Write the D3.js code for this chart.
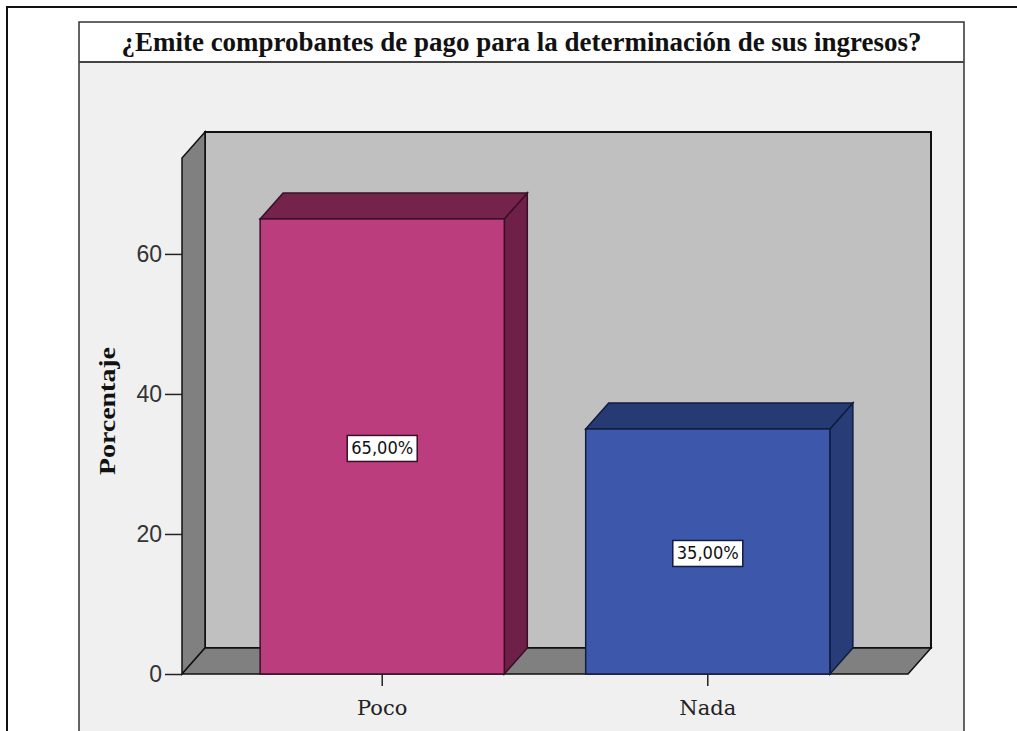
<!DOCTYPE html>
<html><head><meta charset="utf-8">
<script src="https://cdn.jsdelivr.net/npm/d3@7/dist/d3.min.js"></script>
<style>html,body{margin:0;padding:0;background:#fff;overflow:hidden}</style>
</head><body>
<svg id="chart" width="1017" height="731"></svg>
<script>
const categories = ["Poco", "Nada"];
const values = [65, 35];
const valueLabels = ["65,00%", "35,00%"];
const yTicks = [0, 20, 40, 60];
const title = "¿Emite comprobantes de pago para la determinación de sus ingresos?";
const yTitle = "Porcentaje";

const frontColors = ["#BB3D7D", "#3D57AB"];
const topColors = ["#74244B", "#263A74"];
const sideColors = ["#6E2048", "#283C78"];
const edgeColors = ["#3a0f26", "#101c40"];

const svg = d3.select("#chart");
const W = 1017, H = 731;

// outer frame
svg.append("rect").attr("x", 7).attr("y", 7).attr("width", W + 20).attr("height", H + 20)
  .attr("fill", "#fff").attr("stroke", "#111").attr("stroke-width", 2);

// chart box
const boxL = 79, boxR = 964, boxT = 22, sepY = 62;
svg.append("rect").attr("x", boxL).attr("y", boxT).attr("width", boxR - boxL).attr("height", H + 20)
  .attr("fill", "#F0F0F0").attr("stroke", "#333").attr("stroke-width", 1.5);
svg.append("rect").attr("x", boxL + 1).attr("y", boxT + 1).attr("width", boxR - boxL - 2).attr("height", sepY - boxT - 1)
  .attr("fill", "#fff");
svg.append("line").attr("x1", boxL).attr("x2", boxR).attr("y1", sepY).attr("y2", sepY)
  .attr("stroke", "#444").attr("stroke-width", 2);
svg.append("text").attr("x", (boxL + boxR) / 2).attr("y", 51).attr("text-anchor", "middle")
  .attr("font-family", "'Liberation Serif', 'Times New Roman', serif").attr("font-weight", "bold")
  .attr("font-size", 27).attr("textLength", 800).attr("lengthAdjust", "spacingAndGlyphs")
  .attr("fill", "#111").text(title);

// geometry
const x0 = 182, x1 = 908, yBase = 674, yTop = 158;
const dx = 23, dy = -26;
const y = d3.scaleLinear().domain([0, 73.7]).range([yBase, yTop]);
const x = d3.scaleBand().domain(categories).range([x0, x1]).paddingInner(0.25).paddingOuter(0.24);

const line = d3.line();
const poly = pts => line(pts) + "Z";

// back wall
svg.append("rect").attr("x", x0 + dx).attr("y", yTop + dy).attr("width", x1 - x0).attr("height", yBase - yTop)
  .attr("fill", "#C0C0C0").attr("stroke", "#111").attr("stroke-width", 2);
// left wall
svg.append("path").attr("d", poly([[x0, yBase], [x0, yTop], [x0 + dx, yTop + dy], [x0 + dx, yBase + dy]]))
  .attr("fill", "#808080").attr("stroke", "#111").attr("stroke-width", 1.5);
// floor
svg.append("path").attr("d", poly([[x0, yBase], [x1, yBase], [x1 + dx, yBase + dy], [x0 + dx, yBase + dy]]))
  .attr("fill", "#808080").attr("stroke", "#111").attr("stroke-width", 1.5);

// bars
const bw = x.bandwidth();
const g = svg.append("g");
categories.forEach((c, i) => {
  const bx = x(c), by = y(values[i]);
  g.append("path").attr("d", poly([[bx + bw, by], [bx + bw + dx, by + dy], [bx + bw + dx, yBase + dy], [bx + bw, yBase]]))
    .attr("fill", sideColors[i]).attr("stroke", edgeColors[i]).attr("stroke-width", 1.5);
  g.append("path").attr("d", poly([[bx, by], [bx + dx, by + dy], [bx + bw + dx, by + dy], [bx + bw, by]]))
    .attr("fill", topColors[i]).attr("stroke", edgeColors[i]).attr("stroke-width", 1.5);
  g.append("rect").attr("x", bx).attr("y", by).attr("width", bw).attr("height", yBase - by)
    .attr("fill", frontColors[i]).attr("stroke", edgeColors[i]).attr("stroke-width", 1.5);
  const cx = bx + bw / 2, cy = (by + yBase) / 2 + 2;
  g.append("rect").attr("x", cx - 35).attr("y", cy - 13).attr("width", 70).attr("height", 26)
    .attr("fill", "#fff").attr("stroke", edgeColors[i]).attr("stroke-width", 1.5);
  g.append("text").attr("x", cx).attr("y", cy + 6).attr("text-anchor", "middle")
    .attr("font-family", "'DejaVu Sans Condensed', 'DejaVu Sans', sans-serif").attr("font-size", 17)
    .attr("textLength", 62).attr("lengthAdjust", "spacingAndGlyphs").attr("fill", "#111")
    .text(valueLabels[i]);
});

// y axis
const yAxis = d3.axisLeft(y).tickValues(yTicks).tickSize(17).tickPadding(3);
const ya = svg.append("g").attr("transform", `translate(${x0},0)`).call(yAxis);
ya.select(".domain").remove();
ya.selectAll(".tick line").attr("stroke", "#222").attr("stroke-width", 1.5);
ya.selectAll(".tick text").attr("font-family", "'Liberation Sans', sans-serif").attr("font-size", 23)
  .attr("fill", "#333").attr("font-weight", 300);

// x axis
const xAxis = d3.axisBottom(x).tickSize(12).tickPadding(14);
const xa = svg.append("g").attr("transform", `translate(0,${yBase})`).call(xAxis);
xa.select(".domain").remove();
xa.selectAll(".tick line").attr("stroke", "#222").attr("stroke-width", 1.5);
xa.selectAll(".tick text").attr("font-family", "'DejaVu Serif', serif").attr("font-size", 21).attr("fill", "#222");

// y title
svg.append("text").attr("transform", "translate(115,411) rotate(-90)").attr("text-anchor", "middle")
  .attr("font-family", "'Liberation Serif', 'Times New Roman', serif").attr("font-weight", "bold")
  .attr("font-size", 24).attr("textLength", 128).attr("lengthAdjust", "spacingAndGlyphs")
  .attr("fill", "#111").text(yTitle);
</script>
</body></html>
